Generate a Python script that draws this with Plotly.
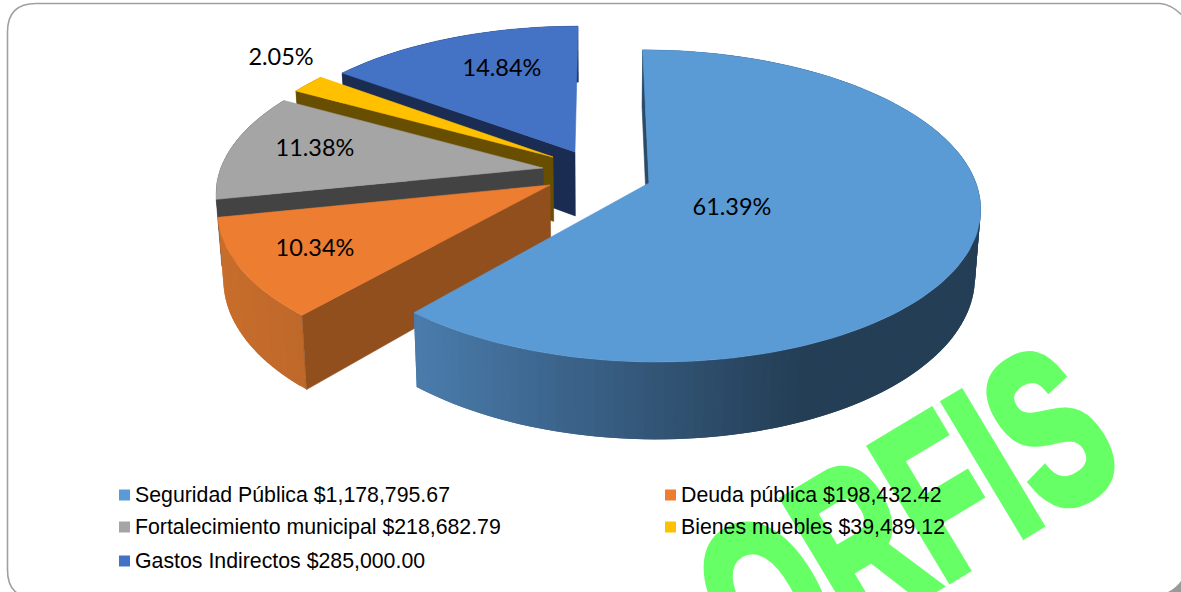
import math
import plotly.graph_objects as go

# ---- data ----
categories = ["Seguridad Pública", "Deuda pública", "Fortalecimiento municipal", "Bienes muebles", "Gastos Indirectos"]
amounts = [1178795.67, 198432.42, 218682.79, 39489.12, 285000.00]
pct_labels = ["61.39%", "10.34%", "11.38%", "2.05%", "14.84%"]

# ---- style ----
top_colors = ["#5B9BD5", "#ED7D31", "#A5A5A5", "#FFC000", "#4472C4"]
face_colors = ["#2A4A68", "#914F1D", "#434343", "#674E00", "#1A2C52"]
wall_left = [(74, 124, 172), (200, 110, 44), (90, 90, 90), (130, 100, 0), (30, 50, 95)]
wall_right = [(36, 62, 86), (190, 104, 42), (70, 70, 70), (110, 85, 0), (26, 44, 82)]
wall_span = [0.68, 1.0, 1.0, 1.0, 1.0]
explode_x = [0.0, -0.3024, -0.3266, -0.2972, -0.2288]
explode_y = [0.0, 0.013, -0.0997, -0.1746, -0.2100]
label_px = [0.244, -0.9686, -1.050, -1.2575, -0.4862]
label_py = [0.1661, 0.4122, -0.2232, -0.9219, -0.8303]

W, H = 1181, 592
VX, CX_OFF, CY, RX, RY, K = 600, 49, 183, 327, 152.7, 0.147
DEPTH = 66
SQUEEZE = 0.985


def project(px, py):
    s = 1 / (1 - K * py)
    return VX + (CX_OFF + RX * px) * s, CY + RY * py * s, s


def top_pt(ox, oy, f, deg):
    a = math.radians(deg)
    return project(ox + f * math.sin(a), oy - f * math.cos(a))


def bottom(pt):
    x, y, s = pt
    return VX + (x - VX) * SQUEEZE, y + DEPTH * s


def poly(fig, pts, color, width=0.6):
    xs = [p[0] for p in pts] + [pts[0][0]]
    ys = [p[1] for p in pts] + [pts[0][1]]
    fig.add_trace(go.Scatter(x=xs, y=ys, mode="lines", fill="toself", fillcolor=color,
                             line=dict(color=color, width=width), hoverinfo="skip", showlegend=False))


def mix(c0, c1, t):
    t = min(1.0, max(0.0, t))
    return "rgb(%d,%d,%d)" % tuple(round(a + (b - a) * t) for a, b in zip(c0, c1))


total = sum(amounts)
starts, sweeps = [], []
acc = 0.0
for v in amounts:
    starts.append(acc)
    sweeps.append(v / total * 360)
    acc += v / total * 360

fig = go.Figure()

for i in [4, 3, 2, 1, 0]:
    ox, oy = explode_x[i], explode_y[i]
    a0, sw = starts[i], sweeps[i]
    n = max(6, int(sw / 1.5))
    angs = [a0 + sw * j / n for j in range(n + 1)]
    outer = [top_pt(ox, oy, 1, a) for a in angs]
    apex = project(ox, oy)
    x_min = min(p[0] for p in outer)
    x_max = max(p[0] for p in outer)
    # outer wall: each strip overlaps the next one so that no seams show
    for j in range(n):
        p, q = outer[j], outer[min(n, j + 2)]
        mid = outer[j + 1]
        t = ((p[0] + mid[0]) / 2 - x_min) / max(1, x_max - x_min) / wall_span[i]
        poly(fig, [p[:2], mid[:2], q[:2], bottom(q), bottom(mid), bottom(p)],
             mix(wall_left[i], wall_right[i], t), width=0)
    # cut face along the start edge of the slice
    poly(fig, [outer[0][:2], apex[:2], bottom(apex), bottom(outer[0])], face_colors[i])
    # top
    poly(fig, [apex[:2]] + [p[:2] for p in outer], top_colors[i])

# percentage labels, placed in the pie's plane
lx, ly = [], []
for px, py in zip(label_px, label_py):
    x, y, _ = project(px, py)
    lx.append(x)
    ly.append(y)
fig.add_trace(go.Scatter(x=lx, y=ly, mode="text", text=pct_labels,
                         textfont=dict(family="Lato", size=23.5, color="#000000"),
                         textposition="middle center", hoverinfo="skip", showlegend=False))

shapes = [
    dict(type="path", xref="x", yref="y", layer="above",
         path="M 7.5 32 Q 7.5 3.5 36 3.5 L 1160 3.5 Q 1176 5 1190 25 L 1190 598 L 36 598 Q 7.5 598 7.5 570 Z",
         line=dict(color="#A0A0A0", width=1.6), fillcolor="rgba(0,0,0,0)"),
    dict(type="path", xref="x", yref="y", layer="above",
         path="M 1168 592 Q 1176 588 1181 581 L 1181 592 Z",
         line=dict(width=0), fillcolor="#9A9A9A"),
]

annotations = [dict(text="<b>ORFIS</b>", x=905, y=516, xref="x", yref="y", showarrow=False, textangle=-31,
                    font=dict(family="Liberation Sans", size=222, color="#66FF66"),
                    xanchor="center", yanchor="middle")]

legend_col = [119, 665, 119, 665, 119]
legend_row = [495, 495, 527, 527, 561]
for i, name in enumerate(categories):
    shapes.append(dict(type="rect", xref="x", yref="y", layer="above",
                       x0=legend_col[i], x1=legend_col[i] + 11,
                       y0=legend_row[i] - 5.5, y1=legend_row[i] + 5.5,
                       fillcolor=top_colors[i], line=dict(width=0)))
    annotations.append(dict(text=f"{name} ${amounts[i]:,.2f}", x=legend_col[i] + 14, y=legend_row[i],
                            xref="x", yref="y", showarrow=False, xanchor="left", yanchor="middle",
                            font=dict(family="Liberation Sans", size=21.3, color="#000000")))

fig.update_layout(width=W, height=H, autosize=False, margin=dict(l=0, r=0, t=0, b=0),
                  paper_bgcolor="#FFFFFF", plot_bgcolor="#FFFFFF", showlegend=False,
                  xaxis=dict(range=[0, W], visible=False, fixedrange=True),
                  yaxis=dict(range=[H, 0], visible=False, fixedrange=True),
                  shapes=shapes, annotations=annotations)

# page margins off; the watermark's heavy, condensed letters come from squeezing and stroking the real text
post = """
document.body.style.margin='0';document.body.style.overflow='hidden';
document.querySelectorAll('.annotation-text').forEach(function(t){
  if(t.textContent==='ORFIS'){
    var b=t.getBBox(),cx=b.x+b.width/2;
    t.setAttribute('transform','translate('+cx+',0) scale(0.635,1) translate('+(-cx)+',0)');
    t.style.stroke='#66FF66';t.style.strokeWidth='9px';t.style.strokeLinejoin='miter';
  }
});
"""
fig.write_html("out.html", config=dict(displayModeBar=False), post_script=post)
